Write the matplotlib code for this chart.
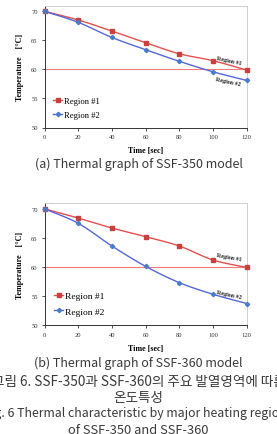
import numpy as np
import matplotlib
matplotlib.use("Agg")
import matplotlib.pyplot as plt
from matplotlib.lines import Line2D

# ---------------------------------------------------------------------------
# Data
# ---------------------------------------------------------------------------
time_sec = [0, 20, 40, 60, 80, 100, 120]

ssf350_region1 = [70.0, 68.5, 66.6, 64.6, 62.7, 61.5, 59.9]
ssf350_region2 = [70.0, 68.1, 65.5, 63.4, 61.4, 59.6, 58.1]

ssf360_region1 = [70.0, 68.4, 66.7, 65.2, 63.6, 61.2, 59.9]
ssf360_region2 = [70.0, 67.5, 63.6, 60.1, 57.3, 55.3, 53.7]

limit_temp = 60
series_labels = ["Region #1", "Region #2"]
panel_captions = ["(a) Thermal graph of SSF-350 model",
                  "(b) Thermal graph of SSF-360 model"]
y_ticks = [50, 55, 60, 65, 70]
x_ticks = [0, 20, 40, 60, 80, 100, 120]

RED_LINE = "#E4504E"
RED_MARK = "#C9403E"
BLUE_LINE = "#5567D4"
BLUE_MARK = "#4A7CC8"
SERIF = "Liberation Serif"
KR = ["Noto Sans CJK KR", "DejaVu Sans"]


def smooth(x, y, n=20):
    # Catmull-Rom curve through the points (like Excel's "smoothed line")
    x = np.asarray(x, float)
    y = np.asarray(y, float)
    px = np.concatenate([[2 * x[0] - x[1]], x, [2 * x[-1] - x[-2]]])
    py = np.concatenate([[2 * y[0] - y[1]], y, [2 * y[-1] - y[-2]]])
    t = np.linspace(0, 1, n)
    xs, ys = [], []
    for i in range(1, len(px) - 2):
        for arr, out in ((px, xs), (py, ys)):
            p0, p1, p2, p3 = arr[i - 1], arr[i], arr[i + 1], arr[i + 2]
            out.extend(0.5 * (2 * p1 + (-p0 + p2) * t
                              + (2 * p0 - 5 * p1 + 4 * p2 - p3) * t ** 2
                              + (-p0 + 3 * p1 - 3 * p2 + p3) * t ** 3))
    return np.array(xs), np.array(ys)


def draw_panel(ax, r1, r2, lab1_xy, lab2_xy, rot1, rot2, leg_size):
    ax.axhline(limit_temp, color="#F27B7B", lw=0.8, zorder=1)

    sx, sy = smooth(time_sec, r1)
    ax.plot(sx, sy, color=RED_LINE, lw=1.0, zorder=2)
    ax.plot(time_sec, r1, ls="none", marker="s", ms=3.2, color=RED_MARK,
            zorder=3, clip_on=False)
    sx, sy = smooth(time_sec, r2)
    ax.plot(sx, sy, color=BLUE_LINE, lw=1.0, zorder=2)
    ax.plot(time_sec, r2, ls="none", marker="D", ms=2.2, color=BLUE_MARK,
            zorder=3, clip_on=False)

    ax.set_xlim(0, 120)
    ax.set_ylim(50, 71)
    ax.set_xticks(x_ticks)
    ax.set_yticks(y_ticks)
    ax.tick_params(labelsize=4.7, length=2, width=0.6, pad=3, colors="#333333")
    for lab in ax.get_xticklabels() + ax.get_yticklabels():
        lab.set_fontfamily(SERIF)

    for side in ("top", "right"):
        ax.spines[side].set_color("#C8C8C8")
        ax.spines[side].set_linewidth(0.6)
    for side in ("left", "bottom"):
        ax.spines[side].set_color("#333333")
        ax.spines[side].set_linewidth(0.7)

    ax.set_ylabel("Temperature    [\u00b0C]", fontsize=5.8, fontweight="bold",
                  family=SERIF, labelpad=5)
    ax.set_xlabel("Time [sec]", fontsize=5.8, fontweight="bold",
                  family=SERIF, labelpad=5)

    ax.text(lab1_xy[0], lab1_xy[1], series_labels[0], fontsize=4.3,
            fontweight="bold", family=SERIF, rotation=rot1,
            ha="center", va="center", color="#222222")
    ax.text(lab2_xy[0], lab2_xy[1], series_labels[1], fontsize=4.3,
            fontweight="bold", family=SERIF, rotation=rot2,
            ha="center", va="center", color="#222222")

    handles = [
        Line2D([], [], color=RED_LINE, lw=1.0, marker="s", ms=3.2,
               markerfacecolor=RED_MARK, markeredgecolor=RED_MARK),
        Line2D([], [], color=BLUE_LINE, lw=1.0, marker="D", ms=2.2,
               markerfacecolor=BLUE_MARK, markeredgecolor=BLUE_MARK),
    ]
    ax.legend(handles, series_labels, loc="lower left",
              bbox_to_anchor=(0.0, 0.0), frameon=False,
              prop={"family": SERIF, "size": leg_size},
              handlelength=1.0, handletextpad=0.2, labelspacing=0.7,
              borderaxespad=0.6)


fig = plt.figure(figsize=(2.77, 4.35), dpi=100)

ax_a = fig.add_axes([0.161, 1 - 128.5 / 435, 0.729, 122.0 / 435])
draw_panel(ax_a, ssf350_region1, ssf350_region2,
           (109.5, 61.6), (109.0, 58.0), -12, -12, 6.2)

ax_b = fig.add_axes([0.161, 1 - 326.0 / 435, 0.729, 122.0 / 435])
draw_panel(ax_b, ssf360_region1, ssf360_region2,
           (109.5, 61.7), (109.5, 55.3), -10, -12, 6.8)

cap_color = "#3A3A3A"
fig.text(0.5, 1 - 164 / 435, panel_captions[0], ha="center", va="center",
         fontsize=9.0, family=KR, color=cap_color)
fig.text(0.5, 1 - 363 / 435, panel_captions[1], ha="center", va="center",
         fontsize=9.0, family=KR, color=cap_color)
fig.text(0.5, 1 - 382 / 435,
         "그림 6. SSF-350과 SSF-360의 주요 발열영역에 따른",
         ha="center", va="center", fontsize=9.8, family=KR, color=cap_color)
fig.text(0.5, 1 - 398 / 435, "온도특성", ha="center", va="center",
         fontsize=9.8, family=KR, color=cap_color)
fig.text(0.5, 1 - 414 / 435,
         "Fig. 6 Thermal characteristic by major heating regions",
         ha="center", va="center", fontsize=8.9, family=KR, color=cap_color)
fig.text(0.5, 1 - 431 / 435, "of SSF-350 and SSF-360", ha="center",
         va="center", fontsize=9.3, family=KR, color=cap_color)

fig.savefig("out.png", dpi=100)
